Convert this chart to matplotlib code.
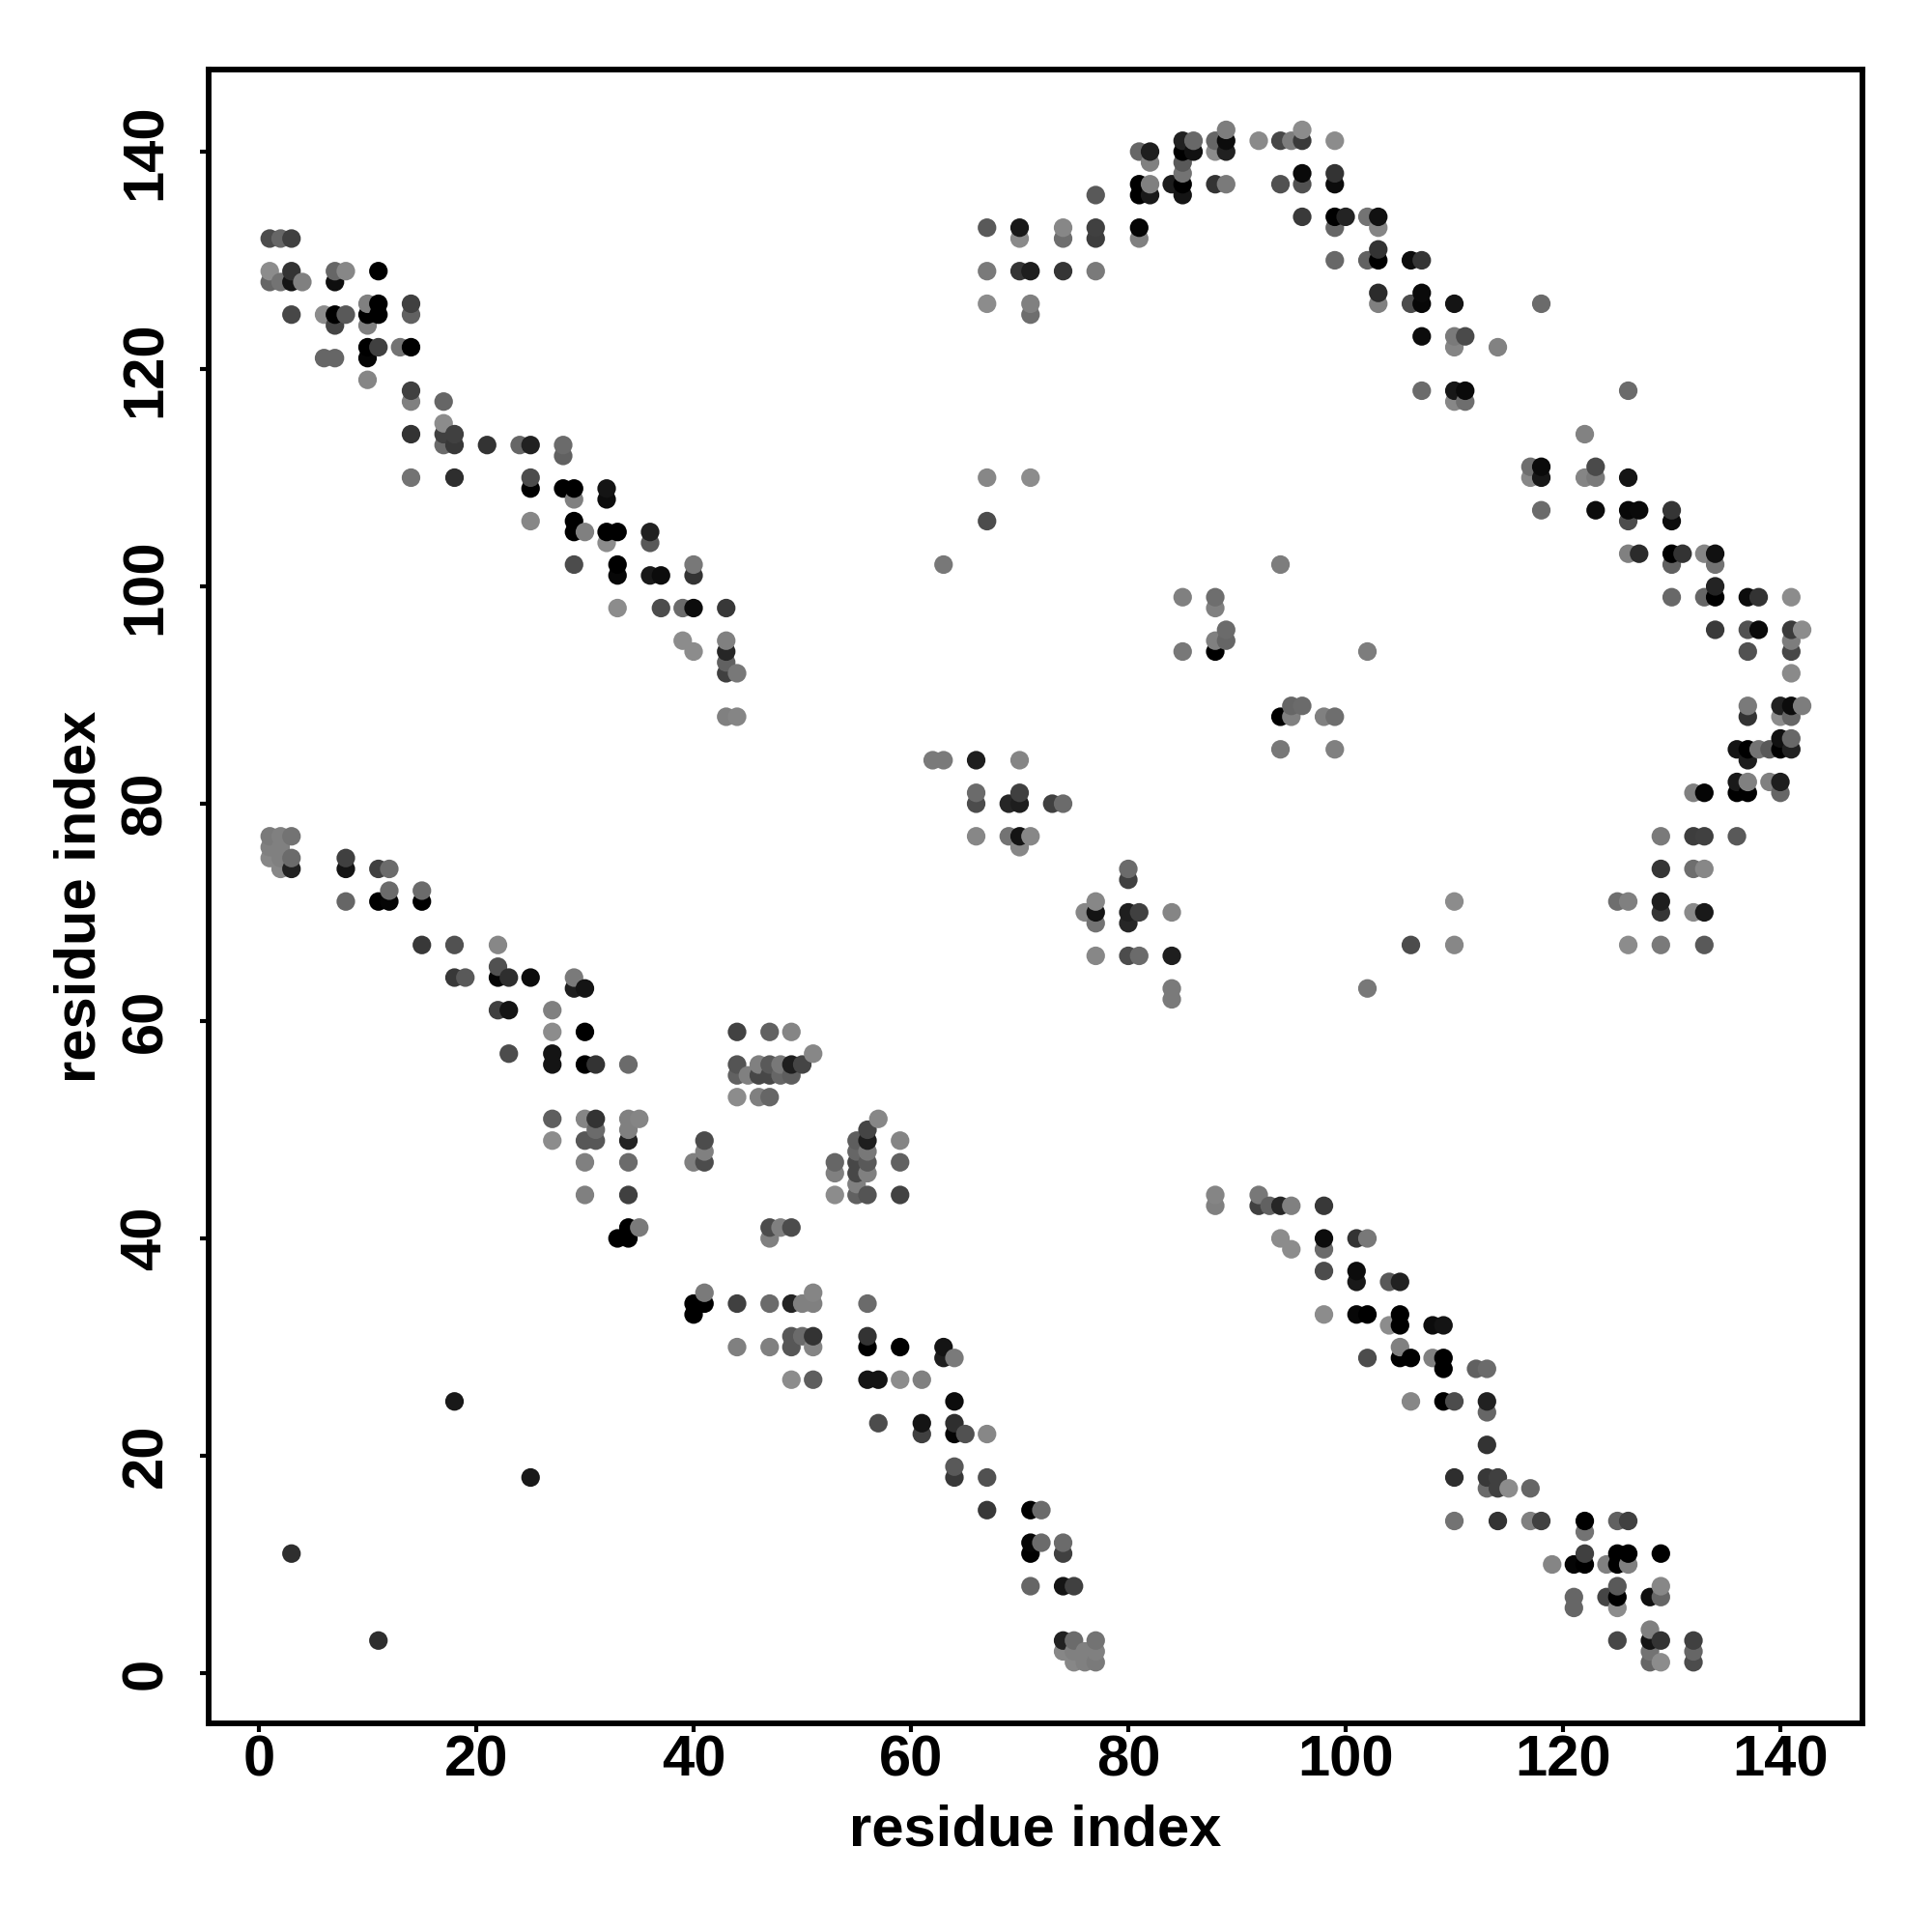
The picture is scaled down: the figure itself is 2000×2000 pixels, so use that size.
import numpy as np
import matplotlib
matplotlib.use('Agg')
import matplotlib.pyplot as plt

# one contact per entry, only the i < j half, the plot is mirrored below
res_i = [1]*6 + [2]*6 + [3]*8 + [4] + [6]*2 + [7]*5 + [8]*5 + [10]*6 + [11]*6 + [12]*3 + [13] + [14]*7 + [15]*3 \
    + [17]*4 + [18]*6 + [19] + [21] + [22]*4 + [23]*3 + [24] + [25]*5 + [27]*6 + [28]*3 + [29]*7 + [30]*8 + [31]*4 \
    + [32]*4 + [33]*5 + [34]*8 + [35]*2 + [36]*3 + [37]*2 + [39]*2 + [40]*5 + [41]*3 + [43]*6 + [44]*6 + [45] \
    + [46]*3 + [47]*4 + [48]*2 + [49]*3 + [50] + [51] + [62] + [63]*2 + [66]*4 + [67]*5 + [69]*2 + [70]*8 + [71]*5 \
    + [73] + [74]*4 + [77]*4 + [81]*5 + [82]*4 + [84] + [85]*8 + [86]*2 + [88]*7 + [89]*6 + [92] + [94]*3 + [95] \
    + [96]*5 + [99]*6 + [100] + [102]*2 + [103]*6 + [106]*2 + [107]*5 + [110]*5 + [111]*3 + [114] + [118]

res_j = [132, 129, 128, 77, 76, 75,
         132, 128, 77, 76, 75, 74,
         132, 129, 128, 125, 77, 75, 74, 11,
         128,
         125, 121,
         129, 128, 125, 124, 121,
         129, 125, 75, 74, 71,
         126, 125, 124, 122, 121, 119,
         129, 126, 125, 122, 74, 71,
         74, 72, 71,
         122,
         126, 125, 122, 118, 117, 114, 110,
         72, 71, 67,
         117, 115, 114, 113,
         114, 113, 110, 67, 64, 25,
         64,
         113,
         67, 65, 64, 61,
         64, 61, 57,
         113,
         113, 110, 109, 106, 64,
         61, 59, 57, 56, 51, 49,
         113, 112, 109,
         109, 108, 106, 105, 102, 64, 63,
         105, 63, 59, 56, 51, 49, 47, 44,
         56, 51, 50, 49,
         109, 108, 105, 104,
         105, 102, 101, 98, 40,
         56, 51, 50, 49, 47, 44, 41, 40,
         51, 41,
         105, 104, 101,
         101, 98,
         98, 95,
         102, 101, 98, 94, 47,
         49, 48, 47,
         98, 95, 94, 93, 92, 88,
         92, 88, 59, 56, 55, 53,
         55,
         56, 55, 53,
         59, 56, 55, 53,
         56, 55,
         59, 56, 55,
         56,
         57,
         84,
         102, 84,
         84, 81, 80, 77,
         133, 129, 126, 110, 106,
         80, 77,
         133, 132, 129, 84, 81, 80, 77, 76,
         129, 126, 125, 110, 77,
         80,
         133, 132, 129, 80,
         136, 133, 132, 129,
         140, 137, 136, 133, 132,
         140, 139, 137, 136,
         137,
         141, 140, 139, 138, 137, 136, 99, 94,
         141, 140,
         141, 140, 137, 99, 98, 95, 94,
         142, 141, 140, 137, 96, 95,
         141,
         141, 137, 102,
         141,
         142, 141, 138, 137, 134,
         141, 138, 137, 134, 133, 130,
         134,
         134, 130,
         134, 133, 131, 130, 127, 126,
         130, 126,
         130, 127, 126, 123, 118,
         126, 123, 122, 118, 117,
         123, 118, 117,
         122,
         126]

# grey level of each contact, same order as res_j
shade = [.30, .55, .40, .48, .50, .53,
         .40, .45, .50, .50, .50, .53,
         .25, .20, .08, .28, .45, .42, .13, .18,
         .50,
         .55, .40,
         .40, .06, .00, .27, .40,
         .53, .35, .25, .08, .40,
         .50, .00, .50, .00, .02, .52,
         .00, .00, .00, .25, .25, .00,
         .42, .42, .02,
         .45,
         .25, .38, .00, .25, .50, .20, .45,
         .42, .00, .22,
         .40, .55, .25, .42,
         .25, .22, .18, .32, .22, .10,
         .35,
         .20,
         .53, .32, .02, .25,
         .18, .08, .30,
         .40,
         .13, .30, .00, .53, .05,
         .50, .55, .08, .08, .37, .55,
         .42, .38, .00,
         .00, .50, .00, .00, .30, .48, .12,
         .50, .08, .00, .00, .52, .34, .50, .50,
         .20, .20, .42, .34,
         .08, .05, .00, .55,
         .00, .00, .03, .55, .00,
         .42, .50, .50, .14, .42, .25, .00, .00,
         .52, .48,
         .13, .35, .10,
         .05, .30,
         .42, .55,
         .47, .20, .05, .55, .50,
         .30, .50, .30,
         .22, .50, .15, .38, .25, .50,
         .47, .52, .26, .33, .38, .55,
         .50,
         .50, .28, .50,
         .38, .35, .28, .40,
         .47, .40,
         .52, .12, .37,
         .27,
         .53,
         .48,
         .47, .48,
         .12, .42, .30, .53,
         .35, .48, .55, .53, .30,
         .15, .45,
         .10, .54, .21, .52, .25, .12, .08, .53,
         .12, .50, .43, .55, .53,
         .25,
         .53, .43, .21, .42,
         .35, .25, .24, .48,
         .40, .00, .00, .02, .50,
         .12, .50, .50, .10,
         .11,
         .13, .00, .35, .45, .00, .08, .50, .47,
         .41, .07,
         .40, .55, .20, .43, .50, .50, .00,
         .49, .05, .13, .48, .42, .40,
         .54,
         .28, .32, .49,
         .49,
         .55, .23, .04, .32, .23,
         .55, .20, .05, .00, .40, .41,
         .14,
         .45, .38,
         .07, .52, .20, .00, .17, .50,
         .05, .30,
         .21, .04, .03, .05, .42,
         .08, .48, .52, .09, .53,
         .29, .04, .43,
         .51,
         .42]

tick_vals = [0, 20, 40, 60, 80, 100, 120, 140]

plt.rcParams['font.family'] = ['Liberation Sans', 'DejaVu Sans']
plt.rcParams['font.weight'] = 'bold'

assert len(res_i) == len(res_j) == len(shade)

# mirror across the diagonal, later residues are drawn on top
x = np.array(res_i + res_j)
y = np.array(res_j + res_i)
g = np.array(shade + shade)
order = np.lexsort((y, x))

fig = plt.figure(figsize=(10, 10), dpi=200)
ax = fig.add_axes([216/2000, 216/2000, 1712/2000, 1712/2000])
ax.scatter(x[order], y[order], c=g[order], cmap='gray', vmin=0, vmax=1, s=48, linewidths=0)

ax.set_xlim(-4.62, 147.55)
ax.set_ylim(-4.62, 147.55)
ax.set_xticks(tick_vals)
ax.set_yticks(tick_vals)
ax.tick_params(axis='x', length=3.3, width=1.5, labelsize=21.5, pad=1)
ax.tick_params(axis='y', length=3.3, width=1.5, labelsize=21.5, pad=10)
for lab in ax.get_yticklabels():
    lab.set_rotation(90)
    lab.set_va('center')
for sp in ax.spines.values():
    sp.set_linewidth(2.1)

ax.set_xlabel('residue index', fontsize=21.5, fontweight='bold', labelpad=6)
ax.set_ylabel('residue index', fontsize=21.5, fontweight='bold', labelpad=5)

fig.savefig('out.png', dpi=200)
